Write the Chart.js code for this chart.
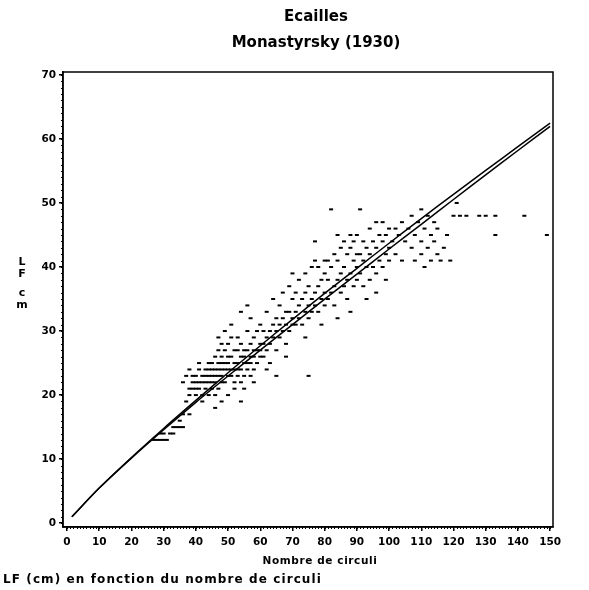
<!DOCTYPE html>
<html>
<head>
<meta charset="utf-8">
<script src="https://cdn.jsdelivr.net/npm/chart.js@4/dist/chart.umd.min.js"></script>
<style>
  html, body { margin: 0; padding: 0; background: #fff; }
</style>
</head>
<body>
<canvas id="scalesChart" width="589" height="590"></canvas>
<script>
// nombre de circuli / LF (cm)
var circuli = [
  27, 28, 29, 30, 31, 29, 30, 32, 33, 33, 34, 35, 36, 35, 36, 38,
  36, 37, 37, 38, 38, 38, 39, 39, 39, 40, 40, 40, 40, 41, 41, 41, 41, 42, 42, 42, 42, 43, 43, 43, 43, 44, 44, 44, 44, 44,
  45, 45, 45, 45, 45, 46, 46, 46, 46, 46, 46, 47, 47, 47, 47, 47, 47, 48, 48, 48, 48, 48, 48, 48, 49, 49, 49, 49, 49,
  50, 50, 50, 50, 50, 50, 51, 51, 51, 51, 51, 52, 52, 52, 52, 52,
  53, 53, 53, 53, 53, 54, 54, 54, 54, 54, 54, 55, 55, 55, 55, 55, 56, 56, 56, 56, 56, 57, 57, 57, 57, 57,
  58, 58, 58, 58, 58, 59, 59, 59, 60, 60, 60, 60,
  61, 61, 61, 62, 62, 62, 62, 63, 63, 63, 64, 64, 64, 65, 65, 65, 65, 66, 66, 66, 67, 67, 67, 68, 68, 68, 68, 69, 69, 69, 70, 70, 70, 70,
  71, 71, 71, 72, 72, 72, 73, 73, 74, 74, 74, 74, 75, 75, 75, 75, 76, 76, 76, 77, 77, 77, 77, 78, 78, 78, 79, 79, 79, 80, 80, 80, 80,
  81, 81, 81, 82, 82, 82, 83, 83, 83, 84, 84, 84, 84, 85, 85, 85, 86, 86, 86, 87, 87, 87, 88, 88, 88, 88, 89, 89, 89, 90, 90, 90, 90,
  91, 91, 91, 92, 92, 92, 93, 93, 93, 94, 94, 94, 95, 95, 96, 96, 96, 96, 97, 97, 98, 98, 98, 99, 99, 99, 100, 100, 100,
  101, 102, 102, 103, 104, 104, 105, 106, 107, 107, 108, 108, 109, 110, 110, 110, 111, 111, 112, 112, 113, 113, 114, 114, 115, 115,
  116, 117, 118, 119, 120, 121, 122,
  124, 128, 130, 133, 133, 142, 149
];
var lf = [
  13, 13, 13, 13, 13, 14, 14, 14, 14, 15, 15, 15, 15, 16, 17, 17,
  22, 19, 23, 20, 21, 24, 21, 22, 23, 20, 21, 22, 23, 21, 22, 24, 25, 19, 20, 22, 23, 21, 22, 23, 24, 20, 22, 23, 24, 25,
  21, 22, 23, 24, 25, 18, 20, 22, 23, 24, 26, 21, 23, 24, 25, 27, 29, 19, 22, 23, 24, 25, 26, 28, 22, 24, 25, 27, 30,
  20, 23, 24, 25, 26, 28, 23, 24, 26, 29, 31, 21, 22, 24, 25, 27,
  23, 24, 25, 27, 29, 19, 22, 24, 26, 28, 33, 21, 23, 25, 26, 27, 24, 25, 27, 30, 34, 23, 25, 26, 28, 32,
  22, 24, 26, 27, 29, 25, 27, 30, 26, 27, 28, 31,
  26, 28, 30, 24, 27, 29, 33, 25, 28, 30, 29, 31, 35, 23, 27, 30, 32, 29, 31, 34, 30, 32, 36, 26, 28, 31, 33, 30, 33, 37, 31, 32, 35, 39,
  31, 33, 36, 32, 34, 38, 31, 35, 29, 33, 36, 39, 23, 32, 34, 37, 33, 35, 40, 34, 36, 41, 44, 33, 37, 40, 31, 35, 38, 34, 36, 39, 41,
  35, 38, 41, 36, 40, 49, 34, 37, 42, 32, 38, 41, 45, 36, 39, 43, 37, 40, 44, 35, 38, 42, 33, 39, 43, 45, 37, 41, 44, 38, 40, 42, 45,
  39, 42, 49, 37, 41, 44, 35, 40, 43, 38, 42, 46, 40, 44, 36, 39, 43, 47, 41, 45, 40, 44, 47, 38, 42, 45, 41, 43, 46,
  44, 42, 46, 45, 41, 47, 44, 46, 43, 48, 41, 45, 47, 42, 44, 49, 40, 46, 43, 48, 41, 45, 44, 47, 42, 46,
  41, 43, 45, 41, 48, 50, 48,
  48, 48, 48, 48, 45, 48, 45
];

// the two fitted curves
var fitX     = [1.5, 10, 20, 30, 40, 50, 60, 70, 80, 90, 100, 110, 120, 130, 140, 150];
var fitUpper = [1.0, 5.48, 10.26, 14.79, 19.17, 23.48, 27.71, 31.81, 35.87, 39.79, 43.71, 47.56, 51.34, 55.08, 58.79, 62.47];
var fitLower = [1.0, 5.48, 10.16, 14.59, 18.87, 22.98, 27.01, 31.01, 34.97, 38.89, 42.81, 46.66, 50.54, 54.38, 58.19, 61.97];

var xTicks = [0, 10, 20, 30, 40, 50, 60, 70, 80, 90, 100, 110, 120, 130, 140, 150];
var yTicks = [0, 10, 20, 30, 40, 50, 60, 70];

var FONT = '"DejaVu Sans", "Liberation Sans", Arial, sans-serif';

function toPoints(xs, ys) {
  return xs.map(function (x, i) { return { x: x, y: ys[i] }; });
}

// frame, minor ticks and all the text around the plot
var decor = {
  id: 'decor',
  afterDraw: function (chart) {
    var ctx = chart.ctx, a = chart.chartArea;
    var xs = chart.scales.x, ys = chart.scales.y;
    ctx.save();
    ctx.strokeStyle = '#000';
    ctx.lineWidth = 1.5;
    ctx.strokeRect(a.left, a.top, a.right - a.left, a.bottom - a.top);

    ctx.lineWidth = 1;
    ctx.beginPath();
    for (var v = 0; v <= 70; v++) {
      var py = Math.round(ys.getPixelForValue(v)) + 0.5;
      ctx.moveTo(a.left - 2, py); ctx.lineTo(a.left, py);
    }
    for (var u = 0; u <= 150; u++) {
      var px = Math.round(xs.getPixelForValue(u)) + 0.5;
      ctx.moveTo(px, a.bottom); ctx.lineTo(px, a.bottom + 2);
    }
    ctx.stroke();

    ctx.fillStyle = '#000';
    ctx.textAlign = 'center';
    ctx.textBaseline = 'middle';
    ctx.font = 'bold 15px ' + FONT;
    ctx.fillText('Ecailles', 316, 17);
    ctx.fillText('Monastyrsky (1930)', 316, 43);

    ctx.font = 'bold 10.5px ' + FONT;
    ctx.letterSpacing = '0.6px';
    ctx.fillText('Nombre de circuli', 320, 561);

    ctx.letterSpacing = '0px';
    ctx.font = 'bold 11px ' + FONT;
    ctx.fillText('L', 22, 262);
    ctx.fillText('F', 22, 274);
    ctx.fillText('c', 22, 293);
    ctx.fillText('m', 22, 305);

    ctx.textAlign = 'left';
    ctx.font = 'bold 12px ' + FONT;
    ctx.letterSpacing = '1.1px';
    ctx.fillText('LF (cm) en fonction du nombre de circuli', 3, 580);
    ctx.restore();
  }
};

var lineStyle = {
  type: 'line',
  borderColor: '#000',
  borderWidth: 1.5,
  pointRadius: 0,
  fill: false,
  tension: 0.3
};

new Chart(document.getElementById('scalesChart'), {
  type: 'scatter',
  data: {
    datasets: [
      {
        label: 'LF',
        data: toPoints(circuli, lf),
        pointStyle: 'line',
        radius: 2,
        borderWidth: 2,
        borderColor: '#000',
        backgroundColor: '#000'
      },
      Object.assign({ label: 'fit 1', data: toPoints(fitX, fitUpper) }, lineStyle),
      Object.assign({ label: 'fit 2', data: toPoints(fitX, fitLower) }, lineStyle)
    ]
  },
  options: {
    responsive: false,
    animation: false,
    layout: { padding: { left: 0, right: 36, top: 72, bottom: 0 } },
    plugins: {
      legend: { display: false },
      tooltip: { enabled: false },
      title: { display: false }
    },
    scales: {
      x: {
        type: 'linear',
        min: -1.25,
        max: 150.9,
        afterBuildTicks: function (s) { s.ticks = xTicks.map(function (v) { return { value: v }; }); },
        afterFit: function (s) { s.height = 63; },
        grid: { drawOnChartArea: false, drawTicks: true, tickLength: 4, color: '#000', lineWidth: 1.5 },
        border: { display: true, color: '#000', width: 1.5 },
        ticks: { color: '#000', padding: 5, maxRotation: 0, autoSkip: false, font: { family: FONT, size: 10.5, weight: 'bold' } }
      },
      y: {
        type: 'linear',
        min: -0.6,
        max: 70.45,
        afterBuildTicks: function (s) { s.ticks = yTicks.map(function (v) { return { value: v }; }); },
        afterFit: function (s) { s.width = 63; },
        grid: { drawOnChartArea: false, drawTicks: true, tickLength: 4, color: '#000', lineWidth: 1.5 },
        border: { display: true, color: '#000', width: 1.5 },
        ticks: { color: '#000', padding: 3, autoSkip: false, font: { family: FONT, size: 10.5, weight: 'bold' } }
      }
    }
  },
  plugins: [decor]
});
</script>
</body>
</html>
